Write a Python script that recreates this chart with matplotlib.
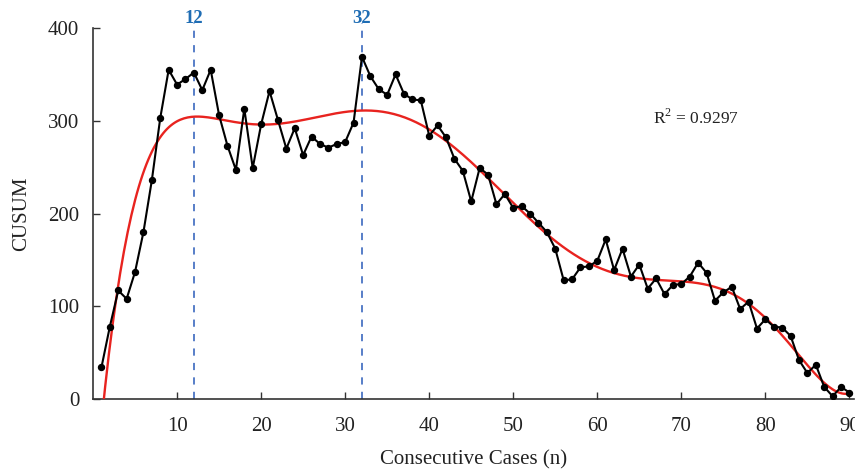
import numpy as np
import matplotlib
matplotlib.use("Agg")
import matplotlib.pyplot as plt

# CUSUM values per consecutive case
cases = np.arange(1, 91)
cusum = [
    34, 78, 117, 108, 137, 180, 236, 303, 355, 339,
    345, 352, 333, 355, 306, 273, 247, 313, 249, 296,
    332, 301, 270, 292, 263, 283, 275, 271, 275, 277,
    298, 369, 348, 334, 328, 350, 329, 323, 322, 284,
    295, 282, 259, 246, 213, 249, 242, 210, 221, 206,
    208, 200, 190, 180, 162, 128, 129, 142, 143, 149,
    172, 139, 162, 132, 145, 119, 130, 113, 123, 124,
    132, 147, 136, 106, 115, 121, 97, 105, 76, 86,
    78, 77, 68, 42, 28, 37, 13, 3, 13, 7,
]
cut_points = [12, 32]
r2_label = "R$^2$ = 0.9297"

plt.rcParams["font.family"] = ["Liberation Serif", "DejaVu Serif"]
plt.rcParams["mathtext.fontset"] = "custom"
plt.rcParams["mathtext.rm"] = "Liberation Serif"

fig = plt.figure(figsize=(8.55, 4.74), dpi=100)
ax = fig.add_axes([0.1088, 0.1582, 0.8896, 0.7827])

# polynomial trend line fitted to the CUSUM points (order 7 gives R^2 ~ 0.93)
trend = np.polynomial.Polynomial.fit(cases, cusum, 7)
xs = np.linspace(1, 90, 400)
ax.plot(xs, trend(xs), color="#e8231f", lw=1.7, zorder=3)

ax.plot(cases, cusum, color="black", lw=1.5, marker="o", ms=4.3, zorder=4)

# blue dashed markers at the turning points
for c in cut_points:
    ax.plot([c, c], [0, 405], color="#4a74c4", lw=1.3, ls=(0, (4, 4)),
            clip_on=False, zorder=2)
    ax.text(c, 410, str(c), color="#1f6db4", fontsize=13.5, fontweight="bold",
            ha="center", va="center", clip_on=False)

ax.text(0.793, 0.757, r2_label, transform=ax.transAxes, fontsize=12.5,
        ha="center", va="center", color="#222222")

ax.set_xlim(0, 90.5)
ax.set_ylim(0, 400)
ax.set_xticks(range(10, 91, 10))
ax.set_yticks(range(0, 401, 100))
ax.tick_params(direction="in", length=5, width=1, labelsize=15, colors="#333333",
               labelcolor="#222222")
ax.tick_params(axis="y", pad=10)
ax.tick_params(axis="x", pad=13)
for s in ["top", "right"]:
    ax.spines[s].set_visible(False)
for s in ["left", "bottom"]:
    ax.spines[s].set_color("#333333")
    ax.spines[s].set_linewidth(1.2)

ax.set_xlabel("Consecutive Cases (n)", fontsize=15, color="#222222", labelpad=10)
ax.set_ylabel("CUSUM", fontsize=15, color="#222222", labelpad=12)

fig.savefig("out.png", dpi=100)
